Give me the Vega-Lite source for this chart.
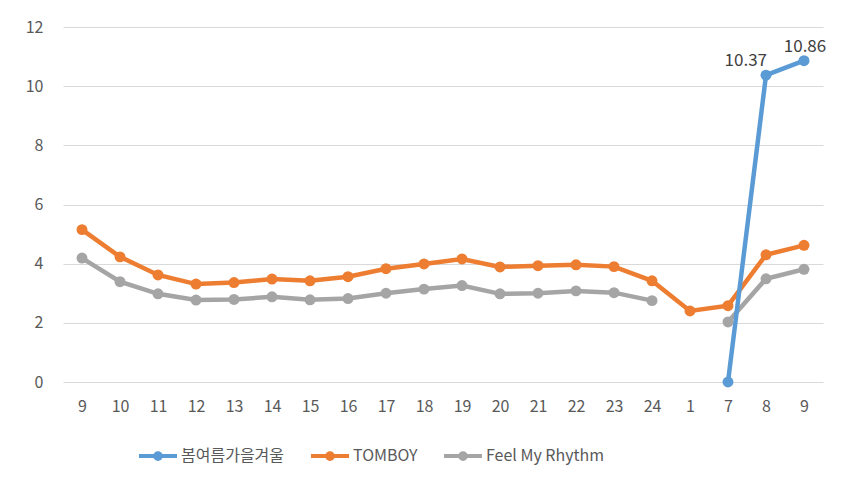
{
  "$schema": "https://vega.github.io/schema/vega-lite/v6.json",
  "width": 760,
  "height": 355,
  "autosize": {"type": "none"},
  "padding": {"left": 63, "top": 27, "right": 27, "bottom": 114},
  "background": "white",
  "config": {
    "view": {"stroke": null},
    "font": "'Noto Sans CJK KR', sans-serif",
    "axis": {"labelFont": "'Noto Sans CJK KR', sans-serif", "labelColor": "#595959", "labelFontSize": 16},
    "legend": {"labelFont": "'Noto Sans CJK KR', sans-serif", "labelColor": "#595959", "labelFontSize": 16}
  },
  "data": {
    "values": [
      {"idx": 0, "series": "TOMBOY", "value": 5.15},
      {"idx": 1, "series": "TOMBOY", "value": 4.23},
      {"idx": 2, "series": "TOMBOY", "value": 3.62},
      {"idx": 3, "series": "TOMBOY", "value": 3.31},
      {"idx": 4, "series": "TOMBOY", "value": 3.36},
      {"idx": 5, "series": "TOMBOY", "value": 3.48},
      {"idx": 6, "series": "TOMBOY", "value": 3.42},
      {"idx": 7, "series": "TOMBOY", "value": 3.56},
      {"idx": 8, "series": "TOMBOY", "value": 3.83},
      {"idx": 9, "series": "TOMBOY", "value": 3.99},
      {"idx": 10, "series": "TOMBOY", "value": 4.16},
      {"idx": 11, "series": "TOMBOY", "value": 3.89},
      {"idx": 12, "series": "TOMBOY", "value": 3.93},
      {"idx": 13, "series": "TOMBOY", "value": 3.96},
      {"idx": 14, "series": "TOMBOY", "value": 3.9},
      {"idx": 15, "series": "TOMBOY", "value": 3.42},
      {"idx": 16, "series": "TOMBOY", "value": 2.4},
      {"idx": 17, "series": "TOMBOY", "value": 2.58},
      {"idx": 18, "series": "TOMBOY", "value": 4.3},
      {"idx": 19, "series": "TOMBOY", "value": 4.62},
      {"idx": 0, "series": "Feel My Rhythm", "value": 4.19},
      {"idx": 1, "series": "Feel My Rhythm", "value": 3.39},
      {"idx": 2, "series": "Feel My Rhythm", "value": 2.98},
      {"idx": 3, "series": "Feel My Rhythm", "value": 2.77},
      {"idx": 4, "series": "Feel My Rhythm", "value": 2.79},
      {"idx": 5, "series": "Feel My Rhythm", "value": 2.88},
      {"idx": 6, "series": "Feel My Rhythm", "value": 2.78},
      {"idx": 7, "series": "Feel My Rhythm", "value": 2.82},
      {"idx": 8, "series": "Feel My Rhythm", "value": 3.0},
      {"idx": 9, "series": "Feel My Rhythm", "value": 3.14},
      {"idx": 10, "series": "Feel My Rhythm", "value": 3.26},
      {"idx": 11, "series": "Feel My Rhythm", "value": 2.98},
      {"idx": 12, "series": "Feel My Rhythm", "value": 3.0},
      {"idx": 13, "series": "Feel My Rhythm", "value": 3.08},
      {"idx": 14, "series": "Feel My Rhythm", "value": 3.02},
      {"idx": 15, "series": "Feel My Rhythm", "value": 2.75},
      {"idx": 16, "series": "Feel My Rhythm", "value": null},
      {"idx": 17, "series": "Feel My Rhythm", "value": 2.03},
      {"idx": 18, "series": "Feel My Rhythm", "value": 3.49},
      {"idx": 19, "series": "Feel My Rhythm", "value": 3.81},
      {"idx": 17, "series": "봄여름가을겨울", "value": 0},
      {"idx": 18, "series": "봄여름가을겨울", "value": 10.37, "label": "10.37"},
      {"idx": 19, "series": "봄여름가을겨울", "value": 10.86, "label": "10.86"}
    ]
  },
  "encoding": {
    "x": {
      "field": "idx",
      "type": "ordinal",
      "scale": {"type": "point", "padding": 0.5, "domain": [0,1,2,3,4,5,6,7,8,9,10,11,12,13,14,15,16,17,18,19]},
      "axis": {
        "title": null,
        "labelAngle": 0,
        "domain": false,
        "ticks": false,
        "grid": false,
        "labelPadding": 16,
        "labelExpr": "['9','10','11','12','13','14','15','16','17','18','19','20','21','22','23','24','1','7','8','9'][datum.value]"
      }
    },
    "y": {
      "field": "value",
      "type": "quantitative",
      "scale": {"domain": [0, 12], "nice": false},
      "axis": {
        "title": null,
        "values": [0, 2, 4, 6, 8, 10, 12],
        "domain": false,
        "ticks": false,
        "labelPadding": 20,
        "gridColor": "#d9d9d9",
        "gridWidth": 1
      }
    },
    "color": {
      "field": "series",
      "type": "nominal",
      "scale": {
        "domain": ["봄여름가을겨울", "TOMBOY", "Feel My Rhythm"],
        "range": ["#5B9BD5", "#ED7D31", "#A5A5A5"]
      },
      "legend": {
        "title": null,
        "orient": "none",
        "direction": "horizontal",
        "columns": 3,
        "legendX": 74,
        "legendY": 408,
        "symbolType": "M-1,0H1M0.15,0A0.15,0.15 0 1,1 -0.15,0A0.15,0.15 0 1,1 0.15,0",
        "symbolSize": 1444,
        "symbolStrokeWidth": 4,
        "labelOffset": 2,
        "columnPadding": 18
      }
    }
  },
  "layer": [
    {
      "mark": {"type": "line", "strokeWidth": 4.5, "invalid": "break-paths-show-domains"}
    },
    {
      "mark": {"type": "point", "filled": true, "size": 120, "opacity": 1}
    },
    {
      "transform": [{"filter": "datum.label == '10.37'"}],
      "mark": {"type": "text", "align": "right", "baseline": "alphabetic", "dx": 1, "dy": -9, "fontSize": 17},
      "encoding": {"text": {"field": "label"}, "color": {"value": "#404040"}}
    },
    {
      "transform": [{"filter": "datum.label == '10.86'"}],
      "mark": {"type": "text", "align": "center", "baseline": "alphabetic", "dx": 1, "dy": -9, "fontSize": 17},
      "encoding": {"text": {"field": "label"}, "color": {"value": "#404040"}}
    }
  ]
}
